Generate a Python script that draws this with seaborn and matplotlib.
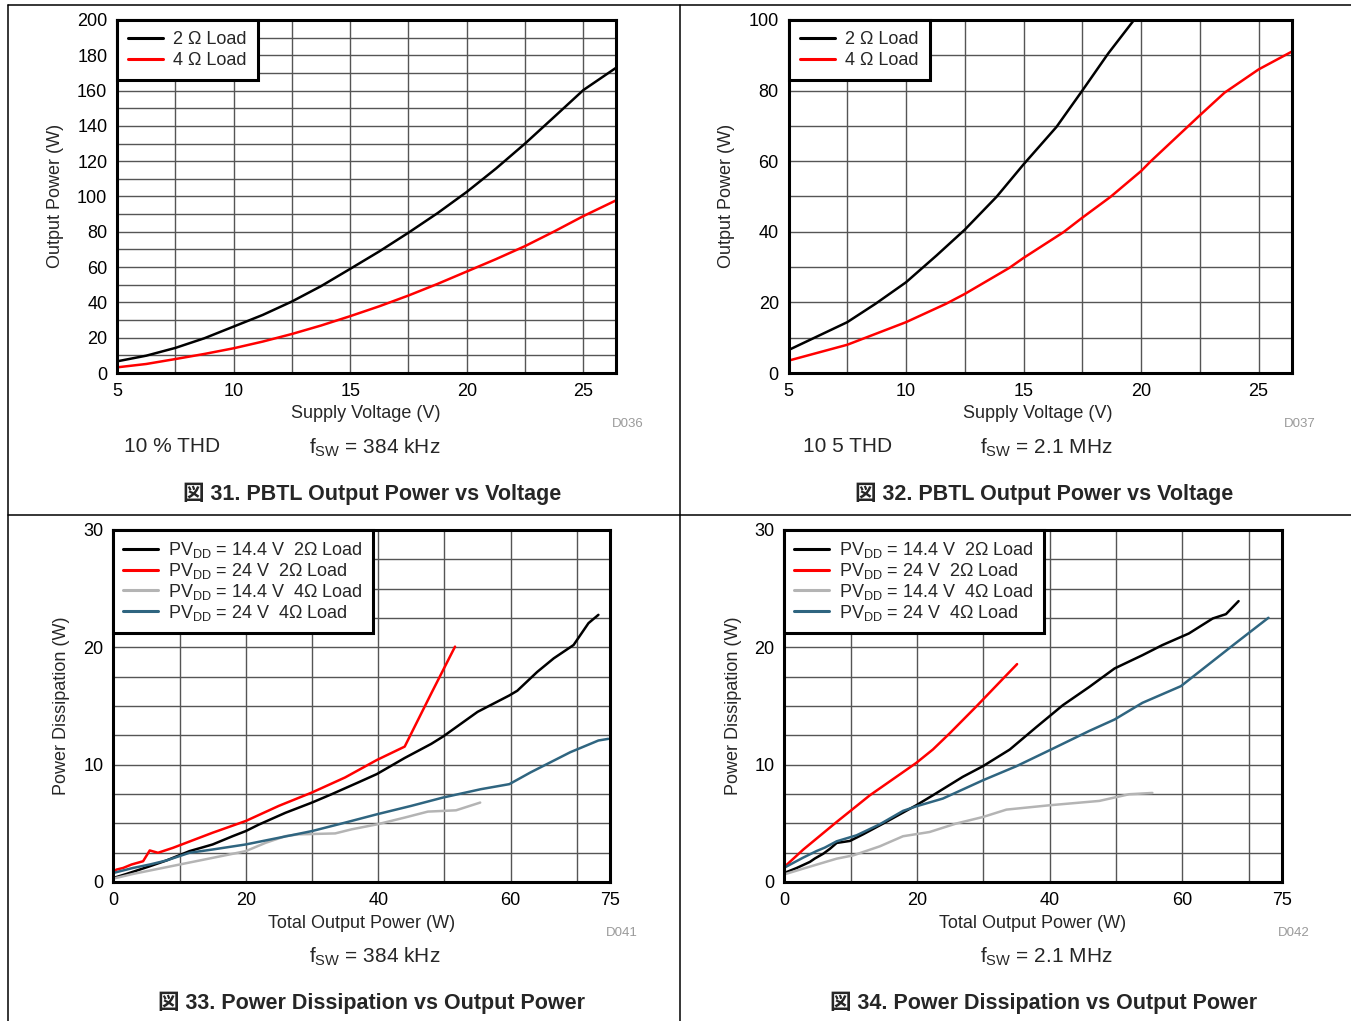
import numpy as np
import pandas as pd
import matplotlib
matplotlib.use("Agg")
import matplotlib.pyplot as plt
from matplotlib.lines import Line2D
from matplotlib.ticker import MultipleLocator, FixedLocator
import seaborn as sns

# ---------------- data ----------------
# Fig 31: PBTL output power vs supply voltage, fsw = 384 kHz
v31 = [5, 6.25, 7.5, 8.75, 10, 11.25, 12.5, 13.75, 15, 16.25, 17.5, 18.75, 20, 21.25, 22.5, 23.75, 25, 26.4]
p31_2ohm = [6.6, 9.8, 14.2, 19.7, 26.3, 32.9, 40.5, 49.2, 59.0, 68.9, 79.5, 90.6, 102.6, 115.8, 130.0, 145.1, 160.3, 172.9]
p31_4ohm = [3.2, 5.1, 7.9, 10.8, 14.0, 17.8, 22.1, 26.9, 32.2, 37.8, 43.9, 50.5, 57.5, 64.5, 71.9, 80.2, 88.9, 97.8]

# Fig 32: PBTL output power vs supply voltage, fsw = 2.1 MHz
v32_2ohm = [5, 7.5, 8.7, 10, 11.3, 12.5, 13.85, 15, 16.4, 17.5, 18.6, 19.7]
p32_2ohm = [6.5, 14.4, 19.6, 25.7, 33.3, 40.6, 49.9, 59.1, 69.7, 80.0, 90.5, 100.0]
v32_4ohm = [5, 7.5, 10, 11.7, 12.5, 14.4, 15, 16.7, 17.5, 18.7, 20, 20.4, 22.5, 23.55, 25, 26.4]
p32_4ohm = [3.5, 8.0, 14.4, 19.6, 22.4, 29.8, 32.6, 39.9, 44.0, 49.9, 57.2, 59.9, 73.0, 79.4, 86.0, 91.0]

# Fig 33: power dissipation vs output power, fsw = 384 kHz
x33_a = [0, 2, 5.5, 8, 11.5, 15, 18, 20, 22, 26, 30, 33, 37, 39.8, 44, 48, 49.8, 55, 59.8, 61, 64, 66.5, 69.5, 71.75, 73.25]
y33_a = [0.34, 0.69, 1.34, 1.83, 2.63, 3.2, 3.9, 4.34, 4.9, 5.9, 6.77, 7.49, 8.49, 9.2, 10.57, 11.77, 12.4, 14.5, 15.9, 16.3, 17.9, 19.06, 20.2, 22.06, 22.77]
x33_b = [0, 0.5, 1.5, 2.75, 4.5, 5.5, 6.75, 9, 11, 15, 20, 25, 30, 35, 39.8, 44, 48, 51.6]
y33_b = [0.91, 1.06, 1.2, 1.49, 1.77, 2.69, 2.49, 2.91, 3.34, 4.2, 5.2, 6.49, 7.63, 8.91, 10.4, 11.54, 16.06, 20.06]
x33_c = [0, 3, 8, 13, 18, 20, 23, 26, 28, 33.5, 36, 39.8, 44, 47.5, 51.75, 55.4]
y33_c = [0.29, 0.69, 1.26, 1.83, 2.4, 2.63, 3.34, 3.91, 4.06, 4.14, 4.49, 4.91, 5.49, 6.0, 6.11, 6.77]
x33_d = [0, 3, 5.5, 8, 11.5, 15, 20, 25, 30, 35, 39.8, 45, 49.8, 55.5, 59.8, 63, 69, 73.25, 74.75]
y33_d = [0.77, 1.2, 1.49, 1.83, 2.49, 2.77, 3.2, 3.77, 4.34, 5.06, 5.77, 6.49, 7.2, 7.91, 8.34, 9.34, 11.06, 12.06, 12.2]

# Fig 34: power dissipation vs output power, fsw = 2.1 MHz
x34_a = [0, 1.85, 3.85, 4.6, 5.9, 6.9, 7.9, 9.9, 11.9, 14.9, 19.9, 22.4, 26.9, 29.95, 34, 38, 42, 46, 49.8, 54, 57, 61, 64.6, 66.6, 68.5]
y34_a = [0.77, 1.19, 1.71, 2.0, 2.42, 2.84, 3.33, 3.5, 4.07, 4.98, 6.54, 7.39, 8.96, 9.87, 11.29, 13.2, 15.07, 16.63, 18.2, 19.33, 20.19, 21.18, 22.46, 22.83, 23.94]
x34_b = [0, 2.85, 7.9, 12.9, 19.9, 22.4, 24.9, 28.9, 33, 35.1]
y34_b = [1.28, 2.76, 5.12, 7.39, 10.15, 11.29, 12.65, 14.93, 17.34, 18.57]
x34_c = [0, 2.85, 7.9, 10.4, 14.4, 17.9, 21.9, 25.9, 29.95, 33.5, 40, 47.5, 52, 55.5]
y34_c = [0.65, 1.14, 1.99, 2.27, 3.04, 3.9, 4.26, 4.98, 5.54, 6.17, 6.54, 6.91, 7.48, 7.59]
x34_d = [0, 2.85, 4.87, 6.1, 7.9, 10.9, 14.4, 17.9, 19.9, 23.9, 29.95, 35, 40, 46, 49.8, 54, 59.8, 63, 68, 73]
y34_d = [1.22, 2.08, 2.64, 2.93, 3.47, 3.98, 4.92, 6.06, 6.45, 7.11, 8.67, 9.87, 11.23, 12.88, 13.85, 15.27, 16.69, 18.11, 20.33, 22.52]

labels_top = ["2 Ω Load", "4 Ω Load"]
labels_bot = [r"PV$_{\mathrm{DD}}$ = 14.4 V  2Ω Load",
              r"PV$_{\mathrm{DD}}$ = 24 V  2Ω Load",
              r"PV$_{\mathrm{DD}}$ = 14.4 V  4Ω Load",
              r"PV$_{\mathrm{DD}}$ = 24 V  4Ω Load"]
colors_top = ["#000000", "#ff0000"]
colors_bot = ["#000000", "#ff0000", "#b4b4b4", "#2f6580"]

# ---------------- style ----------------
sns.set_theme(style="white")
plt.rcParams["font.family"] = ["Liberation Sans", "Noto Sans CJK JP", "DejaVu Sans"]
plt.rcParams["mathtext.fontset"] = "custom"
plt.rcParams["mathtext.rm"] = "Liberation Sans"
plt.rcParams["mathtext.it"] = "Liberation Sans:italic"
plt.rcParams["mathtext.bf"] = "Liberation Sans:bold"

W, H = 1351, 1021
fig = plt.figure(figsize=(W / 100, H / 100), dpi=100)
fig.patch.set_facecolor("white")


def fx(px):
    return px / W


def fy(py):
    return 1 - py / H


def make_ax(l, r, t, b):
    return fig.add_axes([fx(l), fy(b), fx(r) - fx(l), (b - t) / H])


def style_ax(ax):
    for s in ax.spines.values():
        s.set_visible(True)
        s.set_color("black")
        s.set_linewidth(2.2)
    ax.grid(True, which="both", color="#555555", linewidth=1.0)
    ax.set_axisbelow(True)
    ax.tick_params(which="both", length=0, labelsize=13, colors="black", pad=7)


def legend(ax, spacing, bpad):
    leg = ax.legend(loc="upper left", borderaxespad=0, frameon=True, fancybox=False,
                    framealpha=1, edgecolor="black", fontsize=13, handlelength=1.95,
                    handletextpad=0.55, borderpad=bpad, labelspacing=spacing)
    leg.get_frame().set_linewidth(2.2)
    for ln in leg.get_lines():
        ln.set_linewidth(2.2)
    return leg


def draw_lines(ax, xs, ys, labels, colors):
    frames = []
    for x, y, lab in zip(xs, ys, labels):
        frames.append(pd.DataFrame({"x": x, "y": y, "series": lab}))
    df = pd.concat(frames, ignore_index=True)
    sns.lineplot(data=df, x="x", y="y", hue="series", hue_order=labels,
                 palette=dict(zip(labels, colors)), sort=False, estimator=None,
                 linewidth=1.8, ax=ax)


# ---- Fig 31 ----
ax1 = make_ax(117, 616, 20, 373)
draw_lines(ax1, [v31, v31], [p31_2ohm, p31_4ohm], labels_top, colors_top)
ax1.set_xlim(5, 26.4)
ax1.set_ylim(0, 200)
ax1.xaxis.set_major_locator(MultipleLocator(5))
ax1.xaxis.set_minor_locator(MultipleLocator(2.5))
ax1.yaxis.set_major_locator(MultipleLocator(20))
ax1.yaxis.set_minor_locator(MultipleLocator(10))
style_ax(ax1)
ax1.set_xlabel("")
ax1.set_ylabel("")
legend(ax1, 0.22, 0.62)

# ---- Fig 32 ----
ax2 = make_ax(788.5, 1291.5, 20, 373)
draw_lines(ax2, [v32_2ohm, v32_4ohm], [p32_2ohm, p32_4ohm], labels_top, colors_top)
ax2.set_xlim(5, 26.4)
ax2.set_ylim(0, 100)
ax2.xaxis.set_major_locator(MultipleLocator(5))
ax2.xaxis.set_minor_locator(MultipleLocator(2.5))
ax2.yaxis.set_major_locator(MultipleLocator(20))
ax2.yaxis.set_minor_locator(MultipleLocator(10))
style_ax(ax2)
ax2.set_xlabel("")
ax2.set_ylabel("")
legend(ax2, 0.22, 0.62)

# ---- Fig 33 ----
ax3 = make_ax(113.3, 610, 530, 882)
draw_lines(ax3, [x33_a, x33_b, x33_c, x33_d], [y33_a, y33_b, y33_c, y33_d], labels_bot, colors_bot)
ax3.set_xlim(0, 75)
ax3.set_ylim(0, 30)
ax3.xaxis.set_major_locator(FixedLocator([0, 20, 40, 60, 75]))
ax3.xaxis.set_minor_locator(FixedLocator([10, 30, 50, 70]))
ax3.yaxis.set_major_locator(MultipleLocator(10))
ax3.yaxis.set_minor_locator(MultipleLocator(2.5))
style_ax(ax3)
ax3.set_xlabel("")
ax3.set_ylabel("")
legend(ax3, 0.05, 0.55)

# ---- Fig 34 ----
ax4 = make_ax(784.3, 1281.7, 530, 882)
draw_lines(ax4, [x34_a, x34_b, x34_c, x34_d], [y34_a, y34_b, y34_c, y34_d], labels_bot, colors_bot)
ax4.set_xlim(0, 75)
ax4.set_ylim(0, 30)
ax4.xaxis.set_major_locator(FixedLocator([0, 20, 40, 60, 75]))
ax4.xaxis.set_minor_locator(FixedLocator([10, 30, 50, 70]))
ax4.yaxis.set_major_locator(MultipleLocator(10))
ax4.yaxis.set_minor_locator(MultipleLocator(2.5))
style_ax(ax4)
ax4.set_xlabel("")
ax4.set_ylabel("")
legend(ax4, 0.05, 0.55)

# ---------------- texts ----------------
def t(px, py, s, **kw):
    fig.text(fx(px), fy(py), s, ha=kw.pop("ha", "center"), va=kw.pop("va", "center"), **kw)

# axis labels
t(366, 414, "Supply Voltage (V)", fontsize=13)
t(1038, 414, "Supply Voltage (V)", fontsize=13)
t(362, 923, "Total Output Power (W)", fontsize=13)
t(1033, 923, "Total Output Power (W)", fontsize=13)
t(55, 196, "Output Power (W)", fontsize=13, rotation=90)
t(727, 196, "Output Power (W)", fontsize=13, rotation=90)
t(62, 706, "Power Dissipation (W)", fontsize=13, rotation=90)
t(733, 706, "Power Dissipation (W)", fontsize=13, rotation=90)

# doc ids
t(628, 424, "D036", fontsize=9.5, color="#9a9a9a")
t(1300, 424, "D037", fontsize=9.5, color="#9a9a9a")
t(622, 933, "D041", fontsize=9.5, color="#9a9a9a")
t(1294, 933, "D042", fontsize=9.5, color="#9a9a9a")

# conditions
t(172, 446, "10 % THD", fontsize=15)
t(375, 448, r"f$_{\mathrm{SW}}$ = 384 kHz", fontsize=15)
t(848, 446, "10 5 THD", fontsize=15)
t(1046, 448, r"f$_{\mathrm{SW}}$ = 2.1 MHz", fontsize=15)
t(375, 957, r"f$_{\mathrm{SW}}$ = 384 kHz", fontsize=15)
t(1046, 957, r"f$_{\mathrm{SW}}$ = 2.1 MHz", fontsize=15)

# figure captions
cap_kw = dict(fontsize=15.5, fontweight="bold", family=["Liberation Sans", "Noto Sans CJK JP"])
t(372, 494, "図 31. PBTL Output Power vs Voltage", **cap_kw)
t(1044, 494, "図 32. PBTL Output Power vs Voltage", **cap_kw)
t(372, 1003, "図 33. Power Dissipation vs Output Power", **cap_kw)
t(1044, 1003, "図 34. Power Dissipation vs Output Power", **cap_kw)

# table frame lines
for (x0, y0, x1, y1) in [(8, 5, W, 5), (8, 515, W, 515), (8, 5, 8, H), (680, 5, 680, H)]:
    fig.add_artist(Line2D([fx(x0), fx(x1)], [fy(y0), fy(y1)], color="black", linewidth=1.1,
                          transform=fig.transFigure))

fig.savefig("out.png", dpi=100, facecolor="white")
